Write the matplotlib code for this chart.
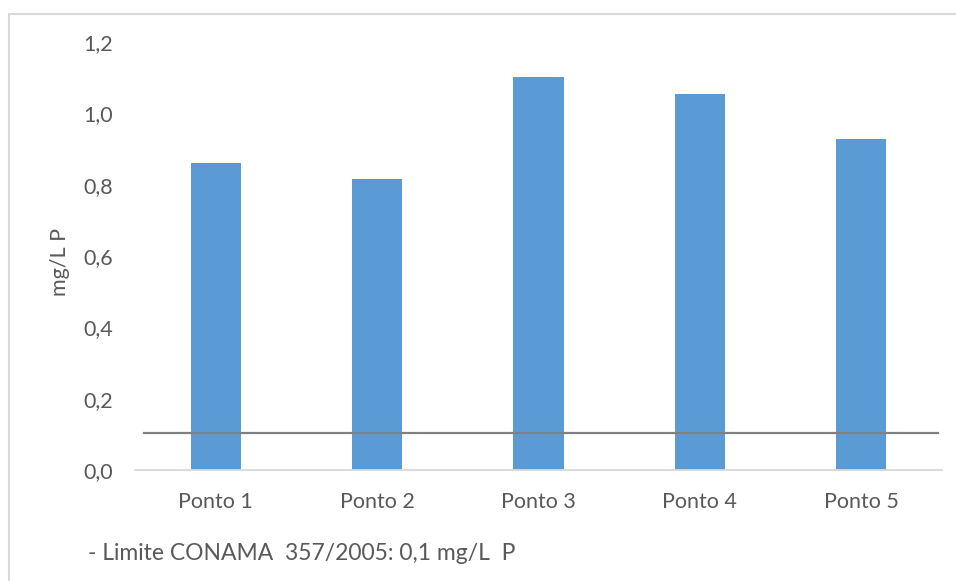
import matplotlib
matplotlib.use("Agg")
import matplotlib.pyplot as plt
from matplotlib.patches import Rectangle

categories = ["Ponto 1", "Ponto 2", "Ponto 3", "Ponto 4", "Ponto 5"]
values = [0.860, 0.816, 1.103, 1.053, 0.928]
limit_value = 0.105
yticks = [0.0, 0.2, 0.4, 0.6, 0.8, 1.0, 1.2]
ytick_labels = ["0,0", "0,2", "0,4", "0,6", "0,8", "1,0", "1,2"]
ylabel = "mg/L P"
note = "- Limite CONAMA  357/2005: 0,1 mg/L  P"

plt.rcParams['font.family'] = ['Lato', 'DejaVu Sans']
txt = "#595959"
fs = 15.5

W, H = 956, 581
fig = plt.figure(figsize=(W / 100, H / 100), dpi=100)
ax = fig.add_axes([135 / W, (H - 470) / H, (942 - 135) / W, (470 - 42) / H])

x = list(range(len(categories)))
ax.bar(x, values, width=0.31, color="#5B9BD5", zorder=2)
ax.axhline(limit_value, xmin=0.011, xmax=0.995, color="#808080", lw=1.6, zorder=3)

ax.set_xlim(-0.5, len(categories) - 0.5)
ax.set_ylim(0, 1.2)
ax.set_yticks(yticks)
ax.set_yticklabels(ytick_labels)
ax.set_xticks(x)
ax.set_xticklabels(categories)
ax.tick_params(axis='both', length=0, labelsize=fs, colors=txt)
ax.tick_params(axis='y', pad=16)
ax.tick_params(axis='x', pad=16)
for s in ["top", "right", "left"]:
    ax.spines[s].set_visible(False)
ax.spines["bottom"].set_color("#D9D9D9")
ax.spines["bottom"].set_linewidth(1.3)

fig.text(60 / W, 1 - 262 / H, ylabel, rotation=90, ha="center", va="center",
         fontsize=fs, color=txt)
fig.text(88 / W, 1 - 554 / H, note, ha="left", va="center", fontsize=16.5, color=txt)

fig.patches.append(Rectangle((8.5 / W, -0.1), 2, 1 - 13.5 / H + 0.1,
                             transform=fig.transFigure, fill=False,
                             edgecolor="#D9D9D9", lw=1.5))

fig.savefig("out.png", dpi=100)
